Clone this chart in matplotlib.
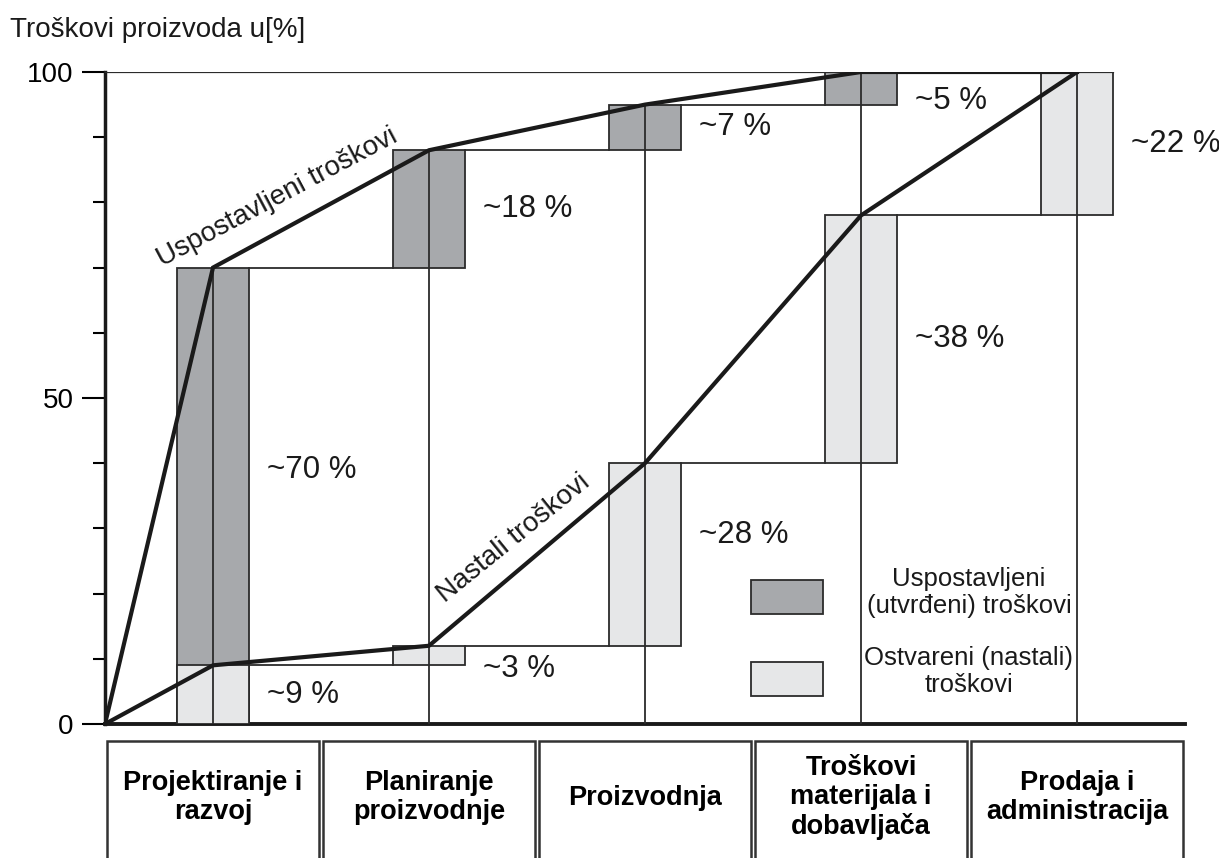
import numpy as np
import matplotlib.pyplot as plt
from matplotlib.patches import Rectangle

plt.rcParams['font.family'] = ['Liberation Sans', 'DejaVu Sans']

# data
stages = ['Projektiranje i\nrazvoj', 'Planiranje\nproizvodnje', 'Proizvodnja',
          'Troškovi\nmaterijala i\ndobavljača', 'Prodaja i\nadministracija']
committed = [70, 18, 7, 5, 0]     # uspostavljeni (utvrđeni) troškovi, %
incurred = [9, 3, 28, 38, 22]     # ostvareni (nastali) troškovi, %
yticks_major = [0, 50, 100]
yticks_minor = [10, 20, 30, 40, 60, 70, 80, 90]

dark = '#a7a9ac'
light = '#e6e7e8'
edge = '#2b2b2b'
ink = '#1a1a1a'

cum_c = np.cumsum(committed)
cum_i = np.cumsum(incurred)
start_c = np.concatenate([[0], cum_c[:-1]])
start_i = np.concatenate([[0], cum_i[:-1]])
xs = np.arange(len(stages)) + 0.5
w = 0.167  # half width of a bar

fig = plt.figure(figsize=(12.19, 8.58), dpi=100)
ax = fig.add_axes([105 / 1219, 1 - 724 / 858, 1080 / 1219, 652 / 858])
ax.set_xlim(0, 5)
ax.set_ylim(0, 100)

# bars
for x, b, h in zip(xs, start_c, committed):
    if h > 0:
        ax.add_patch(Rectangle((x - w, b), 2 * w, h, fc=dark, ec=edge, lw=1.3, zorder=2))
for x, b, h in zip(xs, start_i, incurred):
    ax.add_patch(Rectangle((x - w, b), 2 * w, h, fc=light, ec=edge, lw=1.3, zorder=3))

# vertical stage lines
for x, top in zip(xs, cum_c):
    ax.plot([x, x], [0, top], color=edge, lw=1.3, zorder=4)

# step connectors
for i in range(len(xs) - 1):
    ax.plot([xs[i] + w, xs[i + 1] - w], [cum_c[i], cum_c[i]], color=edge, lw=1.3, zorder=4)
    ax.plot([xs[i] + w, xs[i + 1] - w], [cum_i[i], cum_i[i]], color=edge, lw=1.3, zorder=4)
ax.plot([0, xs[-1] + w], [100, 100], color=edge, lw=1.6, zorder=4)

# cumulative curves
px = np.concatenate([[0], xs])
ax.plot(px, np.concatenate([[0], cum_c]), color=ink, lw=3, zorder=6, solid_joinstyle='miter')
ax.plot(px, np.concatenate([[0], cum_i]), color=ink, lw=3, zorder=6, solid_joinstyle='round')

# percentage labels
nudge_c = [4, 0, 0, -2, 0]
nudge_i = [0, -2, 3, 0, 0]
for k, x in enumerate(xs):
    if committed[k] > 0:
        ax.text(x + 0.25, start_c[k] + committed[k] / 2 + nudge_c[k], '~%d %%' % committed[k],
                fontsize=22.5, va='center', ha='left', color=ink)
    ax.text(x + 0.25, start_i[k] + incurred[k] / 2 + nudge_i[k], '~%d %%' % incurred[k],
            fontsize=22.5, va='center', ha='left', color=ink)

# curve names
ax.text(0.80, 80.8, 'Uspostavljeni troškovi', fontsize=20, rotation=28,
        rotation_mode='anchor', ha='center', va='center', color=ink)
ax.text(1.89, 28.4, 'Nastali troškovi', fontsize=20, rotation=39,
        rotation_mode='anchor', ha='center', va='center', color=ink)

# legend
ax.add_patch(Rectangle((2.99, 16.9), 0.335, 5.2, fc=dark, ec=edge, lw=1.3, zorder=5))
ax.add_patch(Rectangle((2.99, 4.3), 0.335, 5.2, fc=light, ec=edge, lw=1.3, zorder=5))
ax.text(4.0, 20.2, 'Uspostavljeni\n(utvrđeni) troškovi', fontsize=18.5, ha='center',
        va='center', color=ink, linespacing=1.15)
ax.text(4.0, 8.0, 'Ostvareni (nastali)\ntroškovi', fontsize=18.5, ha='center',
        va='center', color=ink, linespacing=1.15)

# stage boxes under the axis
for k, name in enumerate(stages):
    ax.add_patch(Rectangle((k + 0.008, -30), 0.984, 27.4, fc='white', ec='#333333',
                           lw=1.8, clip_on=False))
    ax.text(k + 0.5, -11.3, name, fontsize=19.5, fontweight='bold', ha='center',
            va='center', color='black', clip_on=False, linespacing=1.15)

# axes styling
for s in ['top', 'right']:
    ax.spines[s].set_visible(False)
ax.spines['left'].set_linewidth(2.5)
ax.spines['bottom'].set_linewidth(2.8)
ax.spines['left'].set_color(ink)
ax.spines['bottom'].set_color(ink)
ax.set_xticks([])
ax.set_yticks(yticks_major)
ax.set_yticks(yticks_minor, minor=True)
ax.tick_params(axis='y', which='major', length=16.5, width=1.5, labelsize=20, pad=6)
ax.tick_params(axis='y', which='minor', length=8.6, width=1.5)

fig.text(10 / 1219, 1 - 30 / 858, 'Troškovi proizvoda u[%]', fontsize=20,
         ha='left', va='center', color=ink)

fig.savefig('out.png', dpi=100)
